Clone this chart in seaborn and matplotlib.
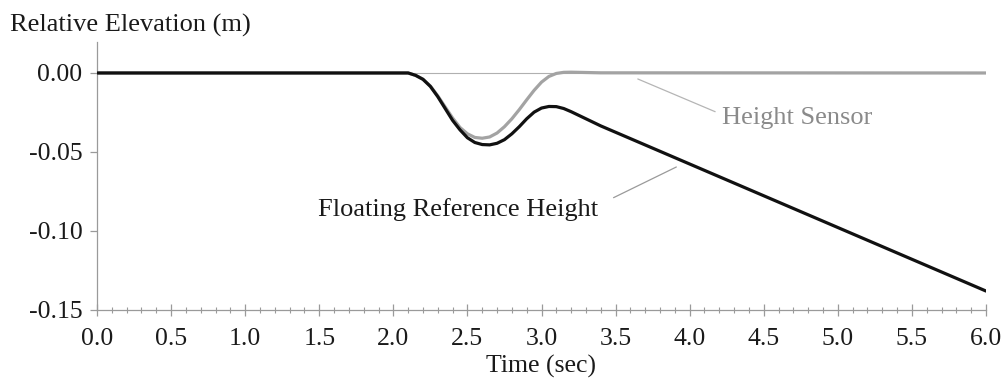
import matplotlib
matplotlib.use("Agg")
import matplotlib.pyplot as plt
import seaborn as sns
import pandas as pd
import numpy as np
from matplotlib.ticker import MultipleLocator, FixedLocator

# ---- data ----
time_s = [0.0, 2.0, 2.1, 2.15, 2.2, 2.25, 2.3, 2.35, 2.4, 2.45, 2.5, 2.55, 2.6,
          2.65, 2.7, 2.75, 2.8, 2.85, 2.9, 2.95, 3.0, 3.05, 3.1, 3.15, 3.2,
          3.3, 3.4, 6.0]
floating_ref = [0.0, 0.0, 0.0, -0.0015, -0.004, -0.0085, -0.015, -0.0225,
                -0.030, -0.036, -0.041, -0.0440, -0.0453, -0.0455, -0.0445,
                -0.0422, -0.0385, -0.034, -0.0290, -0.0248, -0.0222, -0.0212,
                -0.0213, -0.0225, -0.0245, -0.0290, -0.0335, -0.138]
height_sensor = [0.0, 0.0, 0.0, -0.0015, -0.004, -0.0083, -0.0145, -0.0215,
                 -0.0285, -0.0345, -0.0385, -0.0408, -0.0413, -0.0405, -0.0380,
                 -0.0340, -0.0290, -0.0232, -0.0170, -0.0110, -0.0058, -0.0022,
                 -0.0003, 0.0004, 0.0005, 0.0003, 0.0001, 0.0]
series_names = ["Height Sensor", "Floating Reference Height"]
y_ticks = [0.00, -0.05, -0.10, -0.15]
y_tick_labels = ["0.00", "-0.05", "-0.10", "-0.15"]
x_ticks = [0.0, 0.5, 1.0, 1.5, 2.0, 2.5, 3.0, 3.5, 4.0, 4.5, 5.0, 5.5, 6.0]
x_tick_labels = ["0.0", "0.5", "1.0", "1.5", "2.0", "2.5", "3.0", "3.5",
                 "4.0", "4.5", "5.0", "5.5", "6.0"]

df = pd.concat([
    pd.DataFrame({"t": time_s, "h": height_sensor, "series": series_names[0]}),
    pd.DataFrame({"t": time_s, "h": floating_ref, "series": series_names[1]}),
])

sns.set_theme(style="white")
plt.rcParams["font.family"] = ["Liberation Serif", "DejaVu Serif"]

fig = plt.figure(figsize=(10.07, 3.79), dpi=100)
ax = fig.add_axes([97 / 1007, 69 / 379, (986 - 97) / 1007, (310 - 42) / 379])

spine_col = "#9a9a9a"
ax.axhline(0, color="#b0b0b0", lw=0.8, zorder=1)

sns.lineplot(data=df, x="t", y="h", hue="series", hue_order=series_names,
             palette={series_names[0]: "#a3a3a3", series_names[1]: "#111111"},
             linewidth=2.3, legend=False, ax=ax, sort=True, estimator=None,
             zorder=3)

ax.set_xlim(0, 6.0)
ax.set_ylim(-0.15, 0.0196)

for s in ["top", "right"]:
    ax.spines[s].set_visible(False)
for s in ["left", "bottom"]:
    ax.spines[s].set_color(spine_col)
    ax.spines[s].set_linewidth(0.9)

ax.xaxis.set_major_locator(FixedLocator(x_ticks))
ax.set_xticklabels(x_tick_labels)
ax.xaxis.set_minor_locator(MultipleLocator(0.1))
ax.yaxis.set_major_locator(FixedLocator(y_ticks))
ax.set_yticklabels(y_tick_labels)

ax.tick_params(axis="x", which="major", direction="inout", length=8.5,
               width=0.9, color=spine_col, labelsize=18.5, labelcolor="#1a1a1a",
               pad=9, bottom=True)
ax.tick_params(axis="x", which="minor", direction="inout", length=5,
               width=0.8, color=spine_col, bottom=True)
ax.tick_params(axis="y", which="major", direction="out", length=5,
               width=0.9, color=spine_col, labelsize=18.5, labelcolor="#1a1a1a",
               pad=5.5, left=True)

ax.set_xlabel("Time (sec)", fontsize=18.5, color="#1a1a1a", labelpad=3)
ax.set_ylabel("")
fig.text(10 / 1007, 1 - 25 / 379, "Relative Elevation (m)", fontsize=19,
         color="#1a1a1a", ha="left", va="center")

ax.annotate("Height Sensor", xy=(3.65, -0.0038), xytext=(4.22, -0.0285),
            fontsize=19, color="#8a8a8a", ha="left", va="center",
            arrowprops=dict(arrowstyle="-", color="#b5b5b5", lw=0.9,
                            relpos=(0, 0.65), shrinkA=3, shrinkB=0))
ax.annotate("Floating Reference Height", xy=(3.91, -0.0595),
            xytext=(3.38, -0.0867), fontsize=19, color="#1a1a1a",
            ha="right", va="center",
            arrowprops=dict(arrowstyle="-", color="#9a9a9a", lw=0.9,
                            relpos=(1, 0.7), shrinkA=10, shrinkB=0))

fig.savefig("out.png", dpi=100, facecolor="white")
